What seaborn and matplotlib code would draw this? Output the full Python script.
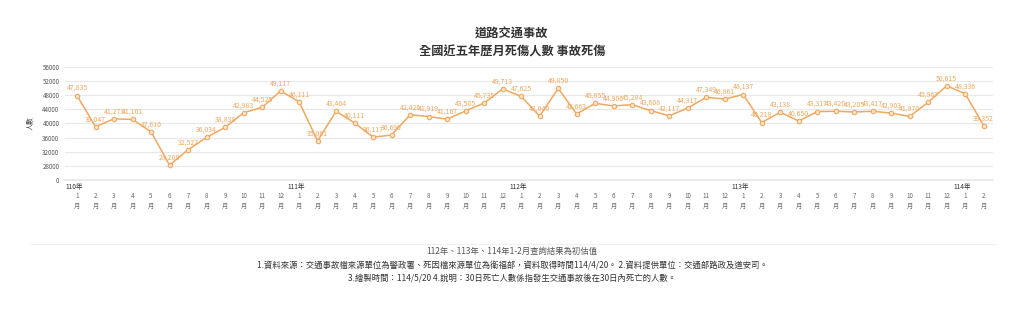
import matplotlib
matplotlib.use("Agg")
import matplotlib.pyplot as plt
import seaborn as sns
import pandas as pd
from matplotlib.lines import Line2D
from matplotlib.transforms import blended_transform_factory

sns.set_theme(style="white")
plt.rcParams['font.family'] = ['Noto Sans CJK TC', 'DejaVu Sans']

# ---- data ----
years = ["110年", "111年", "112年", "113年", "114年"]
months_per_year = [12, 12, 12, 12, 2]
values = [47835, 39047, 41273, 41101, 37610, 28200, 32527, 36034, 38838, 42983, 44525, 49117,
          46111, 35061, 43404, 40111, 36117, 36690, 42426, 41919, 41167, 43505, 45735, 49713,
          47625, 42040, 49850, 42663, 45655, 44906, 45284, 43608, 42117, 44317, 47349, 46861,
          48137, 40218, 43138, 40650, 43317, 43420, 43205, 43417, 42903, 41970, 45967, 50615,
          48336, 39352]
ytick_values = [24000, 28000, 32000, 36000, 40000, 44000, 48000, 52000, 56000]
ytick_labels = ["0", "28000", "32000", "36000", "40000", "44000", "48000", "52000", "56000"]
title1 = "道路交通事故"
title2 = "全國近五年歷月死傷人數 事故死傷"
ylabel = "人數"
footer1 = "112年、113年、114年1-2月查詢結果為初估值"
footer2 = "1.資料來源：交通事故檔來源單位為警政署、死因檔來源單位為衛福部，資料取得時間114/4/20。 2.資料提供單位：交通部路政及道安司。"
footer3 = "3.繪製時間：114/5/20 4.說明：30日死亡人數係指發生交通事故後在30日內死亡的人數。"

month_list = []
year_list = []
for y, n in zip(years, months_per_year):
    for m in range(1, n + 1):
        month_list.append(m)
        year_list.append(y)
df = pd.DataFrame({"idx": range(len(values)), "value": values,
                   "month": month_list, "year": year_list})

orange = "#f0a860"
W, H = 1024, 311
fig = plt.figure(figsize=(W / 100, H / 100), dpi=100)
ax = fig.add_axes([65 / W, 1 - 180 / H, (993 - 65) / W, (180 - 66.7) / H])

sns.lineplot(data=df, x="idx", y="value", ax=ax, color=orange, linewidth=1.1,
             marker="o", markersize=3.2, markerfacecolor="#fde6cc",
             markeredgecolor=orange, markeredgewidth=0.8)

for i, v in zip(df["idx"], df["value"]):
    ax.annotate(f"{v:,}", (i, v), xytext=(0, 2.5), textcoords="offset points",
                ha="center", va="bottom", fontsize=5, color=orange)

ax.set_ylim(24000, 56000)
ax.set_xlim(-0.65, len(values) - 0.5)
ax.set_yticks(ytick_values)
ax.set_yticklabels(ytick_labels, fontsize=4.5, color="#555555")
ax.yaxis.grid(True, color="#e8e8e8", linewidth=0.8)
ax.xaxis.grid(False)
for s in ["top", "right", "left"]:
    ax.spines[s].set_visible(False)
ax.spines["bottom"].set_color("#e8e8e8")
ax.tick_params(axis="y", length=0, pad=4)
ax.set_xticks(df["idx"])
ax.set_xticklabels([f"{m}\n月" for m in df["month"]], fontsize=4.5, color="#666666",
                   linespacing=1.3)
ax.tick_params(axis="x", length=0, pad=9)
ax.set_xlabel("")
ax.set_ylabel(ylabel, fontsize=5, color="#444444", labelpad=6)

trans = blended_transform_factory(ax.transData, ax.transAxes)
for i, (m, y) in enumerate(zip(df["month"], df["year"])):
    if m == 1:
        ax.text(i - 0.15, -0.03, y, transform=trans, ha="center", va="top",
                fontsize=4.8, color="#333333")

fig.text(0.5, 1 - 33 / H, title1, ha="center", va="center", fontsize=8.8,
         fontweight="bold", color="#333333")
fig.text(0.5, 1 - 52 / H, title2, ha="center", va="center", fontsize=8.8,
         fontweight="bold", color="#333333")

fig.add_artist(Line2D([30 / W, 995 / W], [1 - 244 / H, 1 - 244 / H],
                      color="#f0f0f0", linewidth=0.8))
fig.text(0.5, 1 - 251 / H, footer1, ha="center", va="center", fontsize=6, color="#555555")
fig.text(0.5, 1 - 266 / H, footer2, ha="center", va="center", fontsize=6, color="#333333")
fig.text(0.5, 1 - 278 / H, footer3, ha="center", va="center", fontsize=6, color="#333333")

fig.savefig("out.png", dpi=100)
